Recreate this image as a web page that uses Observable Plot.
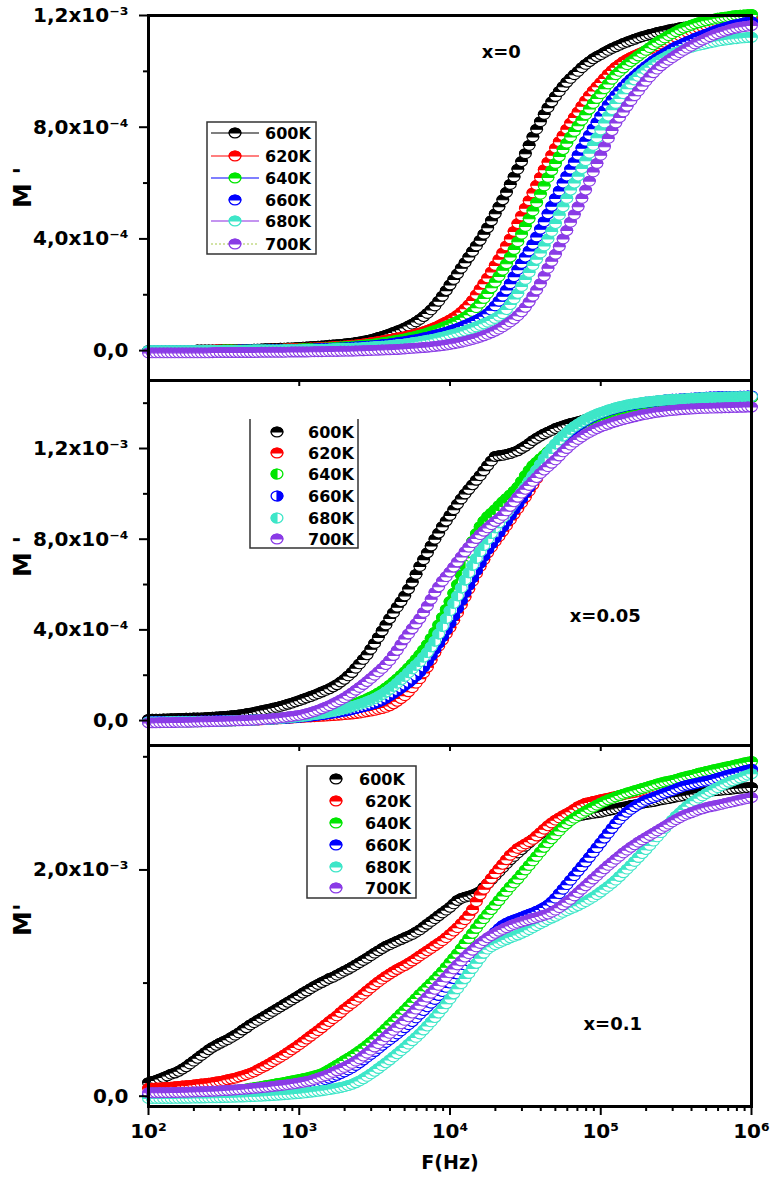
<!DOCTYPE html>
<html><head><meta charset="utf-8">
<script src="https://cdn.jsdelivr.net/npm/d3@7"></script>
<script src="https://cdn.jsdelivr.net/npm/@observablehq/plot@0.6"></script>
<style>
body{margin:0;background:#fff;}
#chart{position:relative;width:774px;height:1184px;font-family:"DejaVu Sans",sans-serif;background:#fff;}
#chart > svg{position:absolute;left:0;}
</style></head><body><div id="chart"></div>
<script>
// frequency grid (log10 of F in Hz)
const logF = [2.000,2.025,2.050,2.075,2.100,2.125,2.150,2.175,2.200,2.225,2.250,2.275,2.300,2.325,2.350,2.375,2.400,2.425,2.450,2.475,
2.500,2.525,2.550,2.575,2.600,2.625,2.650,2.675,2.700,2.725,2.750,2.775,2.800,2.825,2.850,2.875,2.900,2.925,2.950,2.975,
3.000,3.025,3.050,3.075,3.100,3.125,3.150,3.175,3.200,3.225,3.250,3.275,3.300,3.325,3.350,3.375,3.400,3.425,3.450,3.475,
3.500,3.525,3.550,3.575,3.600,3.625,3.650,3.675,3.700,3.725,3.750,3.775,3.800,3.825,3.850,3.875,3.900,3.925,3.950,3.975,
4.000,4.025,4.050,4.075,4.100,4.125,4.150,4.175,4.200,4.225,4.250,4.275,4.300,4.325,4.350,4.375,4.400,4.425,4.450,4.475,
4.500,4.525,4.550,4.575,4.600,4.625,4.650,4.675,4.700,4.725,4.750,4.775,4.800,4.825,4.850,4.875,4.900,4.925,4.950,4.975,
5.000,5.025,5.050,5.075,5.100,5.125,5.150,5.175,5.200,5.225,5.250,5.275,5.300,5.325,5.350,5.375,5.400,5.425,5.450,5.475,
5.500,5.525,5.550,5.575,5.600,5.625,5.650,5.675,5.700,5.725,5.750,5.775,5.800,5.825,5.850,5.875,5.900,5.925,5.950,5.975,
6.000];

const temps = ["600K","620K","640K","660K","680K","700K"];
const colors = ["#000000","#ff0000","#00e600","#0000ff","#3ee6c8","#8a3be6"];

// M' values in units of 1e-4 — panel x=0
const x0_600 = [0.00,0.00,0.00,0.00,0.00,0.00,0.00,0.01,0.01,0.01,0.01,0.01,0.01,0.02,0.02,0.02,0.02,0.02,0.02,0.03,
0.03,0.03,0.03,0.035,0.04,0.04,0.04,0.045,0.05,0.055,0.06,0.065,0.07,0.075,0.08,0.085,0.09,0.095,0.10,0.105,
0.11,0.12,0.13,0.14,0.15,0.16,0.17,0.18,0.19,0.20,0.21,0.225,0.24,0.255,0.27,0.29,0.31,0.335,0.36,0.39,
0.43,0.47,0.51,0.55,0.60,0.65,0.70,0.75,0.81,0.88,0.95,1.03,1.12,1.22,1.33,1.46,1.60,1.77,1.95,2.15,
2.35,2.55,2.75,2.95,3.15,3.35,3.55,3.75,3.95,4.17,4.40,4.65,4.90,5.15,5.40,5.67,5.95,6.22,6.50,6.77,
7.05,7.35,7.65,7.93,8.20,8.46,8.70,8.91,9.10,9.28,9.45,9.61,9.75,9.88,10.00,10.13,10.25,10.35,10.45,10.53,
10.60,10.68,10.75,10.82,10.88,10.94,11.00,11.05,11.10,11.15,11.20,11.24,11.28,11.32,11.35,11.39,11.42,11.45,11.48,11.51,
11.53,11.56,11.58,11.60,11.62,11.64,11.66,11.68,11.70,11.72,11.73,11.75,11.76,11.77,11.78,11.79,11.80,11.81,11.82,11.83,
11.83];
const x0_620 = [0.00,0.00,0.00,0.00,0.00,0.00,0.00,0.00,0.00,0.005,0.01,0.01,0.01,0.01,0.01,0.01,0.01,0.015,0.02,0.02,
0.02,0.02,0.02,0.025,0.03,0.03,0.03,0.035,0.04,0.04,0.04,0.045,0.05,0.05,0.05,0.055,0.06,0.065,0.07,0.075,
0.08,0.085,0.09,0.095,0.10,0.105,0.11,0.12,0.13,0.14,0.15,0.16,0.17,0.18,0.19,0.205,0.22,0.24,0.26,0.28,
0.30,0.325,0.35,0.375,0.40,0.425,0.45,0.475,0.50,0.53,0.56,0.595,0.63,0.675,0.72,0.775,0.83,0.89,0.96,1.03,
1.10,1.18,1.27,1.38,1.50,1.64,1.80,2.00,2.20,2.40,2.60,2.82,3.05,3.27,3.50,3.75,4.00,4.27,4.55,4.82,
5.10,5.37,5.65,5.92,6.20,6.48,6.75,7.00,7.25,7.48,7.70,7.93,8.15,8.35,8.55,8.75,8.95,9.13,9.30,9.45,
9.60,9.75,9.90,10.03,10.15,10.25,10.35,10.43,10.50,10.56,10.62,10.68,10.74,10.80,10.86,10.92,10.98,11.04,11.10,11.16,
11.22,11.28,11.34,11.40,11.45,11.50,11.55,11.60,11.64,11.68,11.72,11.75,11.78,11.81,11.83,11.85,11.87,11.89,11.90,11.91,
11.92];
const x0_640 = [0.00,0.00,0.00,0.00,0.00,0.00,0.00,0.00,0.00,0.00,0.00,0.005,0.01,0.01,0.01,0.01,0.01,0.01,0.01,0.015,
0.02,0.02,0.02,0.02,0.02,0.025,0.03,0.03,0.03,0.03,0.03,0.035,0.04,0.04,0.04,0.045,0.05,0.05,0.05,0.055,
0.06,0.065,0.07,0.075,0.08,0.085,0.09,0.095,0.10,0.11,0.12,0.13,0.14,0.15,0.16,0.17,0.18,0.195,0.21,0.225,
0.24,0.26,0.28,0.30,0.32,0.345,0.37,0.395,0.42,0.45,0.48,0.515,0.55,0.59,0.63,0.675,0.72,0.77,0.82,0.875,
0.93,0.99,1.05,1.12,1.20,1.29,1.40,1.54,1.70,1.87,2.05,2.25,2.45,2.66,2.88,3.11,3.35,3.62,3.90,4.17,
4.45,4.72,5.00,5.30,5.60,5.90,6.20,6.45,6.70,6.95,7.20,7.43,7.65,7.85,8.05,8.25,8.45,8.65,8.85,9.03,
9.20,9.38,9.55,9.72,9.88,10.00,10.12,10.24,10.35,10.45,10.55,10.65,10.75,10.85,10.95,11.04,11.12,11.20,11.28,11.35,
11.42,11.49,11.55,11.60,11.65,11.70,11.74,11.78,11.81,11.84,11.87,11.90,11.92,11.94,11.96,11.98,12.00,12.01,12.02,12.03,
12.04];
const x0_660 = [0.00,0.00,0.00,0.00,0.00,0.00,0.00,0.00,0.00,0.00,0.00,0.00,0.00,0.005,0.01,0.01,0.01,0.01,0.01,0.01,
0.01,0.01,0.01,0.015,0.02,0.02,0.02,0.02,0.02,0.02,0.02,0.025,0.03,0.03,0.03,0.03,0.03,0.035,0.04,0.04,
0.04,0.045,0.05,0.055,0.06,0.065,0.07,0.075,0.08,0.085,0.09,0.095,0.10,0.11,0.12,0.13,0.14,0.15,0.16,0.17,
0.18,0.195,0.21,0.225,0.24,0.26,0.28,0.30,0.32,0.345,0.37,0.395,0.42,0.45,0.48,0.515,0.55,0.585,0.62,0.66,
0.70,0.745,0.79,0.845,0.90,0.96,1.02,1.08,1.15,1.23,1.32,1.45,1.60,1.77,1.95,2.17,2.40,2.65,2.90,3.12,
3.35,3.57,3.80,4.07,4.35,4.62,4.90,5.17,5.45,5.72,6.00,6.25,6.50,6.75,7.00,7.25,7.50,7.72,7.95,8.17,
8.40,8.60,8.80,8.98,9.15,9.30,9.45,9.59,9.72,9.84,9.95,10.07,10.18,10.28,10.38,10.47,10.55,10.64,10.72,10.80,
10.88,10.94,11.00,11.06,11.12,11.18,11.23,11.28,11.33,11.38,11.43,11.48,11.52,11.56,11.60,11.64,11.67,11.70,11.73,11.76,
11.78];
const x0_680 = [0.00,0.00,0.00,0.00,0.00,0.00,0.00,0.00,0.00,0.00,0.00,0.00,0.00,0.00,0.00,0.005,0.01,0.01,0.01,0.01,
0.01,0.01,0.01,0.01,0.01,0.01,0.01,0.015,0.02,0.02,0.02,0.02,0.02,0.02,0.02,0.025,0.03,0.03,0.03,0.03,
0.03,0.035,0.04,0.04,0.04,0.045,0.05,0.055,0.06,0.065,0.07,0.075,0.08,0.085,0.09,0.095,0.10,0.11,0.12,0.13,
0.14,0.15,0.16,0.17,0.18,0.195,0.21,0.225,0.24,0.26,0.28,0.30,0.32,0.345,0.37,0.395,0.42,0.45,0.48,0.515,
0.55,0.585,0.62,0.66,0.70,0.75,0.80,0.85,0.90,0.96,1.02,1.08,1.15,1.23,1.32,1.47,1.65,1.85,2.05,2.30,
2.55,2.80,3.05,3.27,3.50,3.75,4.00,4.27,4.55,4.85,5.15,5.45,5.75,6.00,6.25,6.52,6.80,7.07,7.35,7.62,
7.90,8.15,8.40,8.63,8.85,9.03,9.20,9.38,9.55,9.69,9.82,9.94,10.05,10.15,10.25,10.34,10.42,10.49,10.56,10.62,
10.68,10.73,10.78,10.82,10.86,10.90,10.93,10.96,10.99,11.02,11.05,11.08,11.10,11.12,11.14,11.16,11.17,11.19,11.20,11.21,
11.22];
const x0_700 = [-0.08,-0.08,-0.08,-0.08,-0.08,-0.08,-0.08,-0.08,-0.08,-0.08,-0.08,-0.08,-0.08,-0.08,-0.08,-0.08,-0.08,-0.075,-0.07,-0.07,
-0.07,-0.07,-0.07,-0.07,-0.07,-0.07,-0.07,-0.07,-0.07,-0.065,-0.06,-0.06,-0.06,-0.06,-0.06,-0.06,-0.06,-0.055,-0.05,-0.05,
-0.05,-0.05,-0.05,-0.045,-0.04,-0.04,-0.04,-0.035,-0.03,-0.03,-0.03,-0.025,-0.02,-0.02,-0.02,-0.015,-0.01,-0.005,0.00,0.005,
0.01,0.015,0.02,0.025,0.03,0.035,0.04,0.05,0.06,0.07,0.08,0.09,0.10,0.11,0.12,0.135,0.15,0.165,0.18,0.20,
0.22,0.245,0.27,0.30,0.33,0.365,0.40,0.44,0.48,0.53,0.58,0.64,0.70,0.77,0.85,0.94,1.03,1.13,1.25,1.39,
1.55,1.74,1.95,2.17,2.40,2.67,2.95,3.20,3.45,3.72,4.00,4.30,4.60,4.87,5.15,5.45,5.75,6.07,6.40,6.70,
7.00,7.30,7.60,7.88,8.15,8.35,8.55,8.75,8.95,9.13,9.30,9.48,9.65,9.80,9.95,10.08,10.20,10.30,10.40,10.49,
10.58,10.67,10.75,10.83,10.90,10.98,11.05,11.12,11.18,11.24,11.30,11.35,11.40,11.44,11.48,11.52,11.55,11.58,11.60,11.62,
11.64];

// panel x=0.05
const x05_600 = [0.05,0.055,0.06,0.065,0.07,0.075,0.08,0.085,0.09,0.095,0.10,0.105,0.11,0.115,0.12,0.13,0.14,0.15,0.16,0.17,
0.18,0.195,0.21,0.23,0.25,0.275,0.30,0.33,0.36,0.395,0.43,0.465,0.50,0.54,0.58,0.625,0.67,0.72,0.77,0.825,
0.88,0.94,1.00,1.06,1.12,1.19,1.26,1.33,1.40,1.49,1.58,1.70,1.82,1.97,2.12,2.31,2.50,2.70,2.90,3.15,
3.40,3.67,3.95,4.22,4.50,4.75,5.00,5.25,5.50,5.80,6.10,6.45,6.80,7.10,7.40,7.70,8.00,8.27,8.55,8.80,
9.05,9.30,9.55,9.78,10.00,10.20,10.40,10.60,10.80,11.02,11.25,11.45,11.65,11.68,11.70,11.74,11.78,11.84,11.90,12.00,
12.10,12.22,12.35,12.45,12.55,12.64,12.72,12.80,12.88,12.94,13.00,13.05,13.10,13.14,13.18,13.23,13.28,13.33,13.38,13.43,
13.48,13.53,13.58,13.63,13.68,13.72,13.76,13.80,13.84,13.87,13.90,13.93,13.96,13.98,14.00,14.02,14.04,14.06,14.07,14.09,
14.10,14.11,14.12,14.13,14.14,14.15,14.16,14.17,14.18,14.19,14.19,14.20,14.20,14.21,14.21,14.22,14.22,14.23,14.23,14.24,
14.24];
const x05_620 = [-0.05,-0.05,-0.05,-0.05,-0.05,-0.05,-0.05,-0.045,-0.04,-0.04,-0.04,-0.04,-0.04,-0.035,-0.03,-0.03,-0.03,-0.025,-0.02,-0.02,
-0.02,-0.015,-0.01,-0.005,0.00,0.005,0.01,0.015,0.02,0.025,0.03,0.04,0.05,0.06,0.07,0.08,0.09,0.10,0.11,0.12,
0.13,0.14,0.15,0.16,0.17,0.18,0.19,0.20,0.21,0.22,0.23,0.245,0.26,0.275,0.29,0.31,0.33,0.36,0.39,0.42,
0.45,0.49,0.53,0.58,0.65,0.74,0.85,0.97,1.10,1.27,1.45,1.65,1.85,2.10,2.35,2.67,3.00,3.28,3.55,3.82,
4.10,4.42,4.75,5.10,5.45,5.80,6.15,6.48,6.80,7.10,7.40,7.65,7.90,8.12,8.35,8.60,8.85,9.10,9.35,9.60,
9.85,10.12,10.40,10.67,10.95,11.22,11.50,11.75,12.00,12.20,12.40,12.58,12.75,12.88,13.00,13.10,13.20,13.29,13.38,13.45,
13.52,13.58,13.64,13.69,13.74,13.78,13.82,13.86,13.89,13.92,13.95,13.98,14.00,14.02,14.04,14.06,14.08,14.10,14.11,14.13,
14.14,14.15,14.16,14.17,14.18,14.19,14.20,14.21,14.22,14.22,14.23,14.23,14.24,14.24,14.25,14.25,14.26,14.26,14.27,14.27,
14.28];
const x05_640 = [-0.07,-0.07,-0.07,-0.07,-0.07,-0.065,-0.06,-0.06,-0.06,-0.06,-0.06,-0.055,-0.05,-0.05,-0.05,-0.045,-0.04,-0.035,-0.03,-0.025,
-0.02,-0.015,-0.01,-0.005,0.00,0.005,0.01,0.02,0.03,0.04,0.05,0.06,0.07,0.085,0.10,0.115,0.13,0.145,0.16,0.18,
0.20,0.225,0.25,0.275,0.30,0.33,0.36,0.395,0.43,0.47,0.51,0.555,0.60,0.65,0.70,0.76,0.82,0.89,0.96,1.04,
1.12,1.22,1.32,1.44,1.56,1.70,1.84,1.99,2.15,2.32,2.50,2.70,2.90,3.12,3.35,3.62,3.90,4.22,4.55,4.90,
5.25,5.62,6.00,6.42,6.85,7.40,7.90,8.25,8.55,8.80,9.00,9.15,9.30,9.48,9.65,9.80,9.95,10.12,10.30,10.55,
10.80,11.03,11.25,11.40,11.55,11.70,11.85,12.00,12.15,12.33,12.50,12.64,12.78,12.90,13.00,13.08,13.15,13.22,13.28,13.34,
13.40,13.46,13.52,13.57,13.62,13.67,13.72,13.76,13.80,13.84,13.87,13.90,13.93,13.96,13.98,14.01,14.03,14.05,14.07,14.09,
14.10,14.12,14.13,14.14,14.15,14.16,14.17,14.18,14.19,14.20,14.20,14.21,14.21,14.22,14.22,14.23,14.23,14.24,14.24,14.25,
14.25];
const x05_660 = [-0.04,-0.04,-0.04,-0.04,-0.04,-0.04,-0.04,-0.035,-0.03,-0.03,-0.03,-0.03,-0.03,-0.025,-0.02,-0.02,-0.02,-0.015,-0.01,-0.01,
-0.01,-0.005,0.00,0.005,0.01,0.015,0.02,0.025,0.03,0.035,0.04,0.05,0.06,0.07,0.08,0.09,0.10,0.11,0.12,0.135,
0.15,0.165,0.18,0.20,0.22,0.24,0.26,0.285,0.31,0.335,0.36,0.39,0.42,0.455,0.49,0.53,0.57,0.615,0.66,0.71,
0.76,0.82,0.90,0.99,1.10,1.21,1.32,1.44,1.56,1.68,1.82,1.97,2.15,2.36,2.60,2.87,3.15,3.42,3.70,4.00,
4.30,4.62,4.95,5.30,5.65,5.97,6.30,6.62,6.95,7.25,7.55,7.80,8.05,8.30,8.55,8.80,9.05,9.30,9.55,9.80,
10.05,10.30,10.55,10.80,11.05,11.30,11.55,11.78,12.00,12.20,12.40,12.58,12.75,12.89,13.02,13.13,13.24,13.33,13.42,13.49,
13.56,13.62,13.68,13.73,13.78,13.82,13.86,13.90,13.93,13.96,13.99,14.02,14.04,14.06,14.08,14.10,14.12,14.14,14.15,14.17,
14.18,14.19,14.20,14.21,14.22,14.23,14.24,14.25,14.26,14.27,14.27,14.28,14.28,14.29,14.29,14.30,14.30,14.31,14.31,14.32,
14.32];
const x05_680 = [-0.06,-0.06,-0.06,-0.06,-0.06,-0.055,-0.05,-0.05,-0.05,-0.05,-0.05,-0.045,-0.04,-0.04,-0.04,-0.035,-0.03,-0.03,-0.03,-0.025,
-0.02,-0.015,-0.01,-0.005,0.00,0.005,0.01,0.015,0.02,0.03,0.04,0.05,0.06,0.07,0.08,0.095,0.11,0.125,0.14,0.155,
0.17,0.19,0.21,0.235,0.26,0.285,0.31,0.34,0.37,0.405,0.44,0.48,0.52,0.565,0.61,0.66,0.71,0.77,0.83,0.90,
0.97,1.06,1.15,1.26,1.38,1.51,1.65,1.80,1.95,2.11,2.28,2.44,2.60,2.80,3.00,3.25,3.50,3.82,4.15,4.50,
4.85,5.17,5.50,5.85,6.20,6.52,6.85,7.15,7.45,7.72,8.00,8.25,8.50,8.72,8.95,9.17,9.40,9.62,9.85,10.07,
10.30,10.55,10.80,11.05,11.30,11.55,11.80,12.00,12.20,12.38,12.55,12.70,12.85,12.97,13.08,13.18,13.28,13.37,13.45,13.52,
13.58,13.64,13.70,13.75,13.80,13.84,13.88,13.92,13.95,13.98,14.00,14.03,14.05,14.07,14.09,14.11,14.12,14.14,14.15,14.16,
14.17,14.18,14.19,14.20,14.21,14.22,14.23,14.24,14.24,14.25,14.25,14.26,14.26,14.27,14.27,14.28,14.28,14.29,14.29,14.30,
14.30];
const x05_700 = [-0.10,-0.10,-0.10,-0.095,-0.09,-0.09,-0.09,-0.085,-0.08,-0.08,-0.08,-0.075,-0.07,-0.065,-0.06,-0.055,-0.05,-0.045,-0.04,-0.035,
-0.03,-0.025,-0.02,-0.015,-0.01,-0.005,0.00,0.01,0.02,0.03,0.04,0.055,0.07,0.085,0.10,0.12,0.14,0.16,0.18,0.205,
0.23,0.26,0.30,0.35,0.40,0.46,0.52,0.59,0.66,0.74,0.82,0.91,1.00,1.11,1.22,1.34,1.46,1.59,1.72,1.86,
2.00,2.15,2.30,2.47,2.65,2.87,3.10,3.35,3.60,3.82,4.05,4.27,4.50,4.77,5.05,5.35,5.65,5.90,6.15,6.35,
6.55,6.77,7.00,7.22,7.45,7.65,7.85,8.03,8.20,8.35,8.50,8.64,8.78,8.91,9.05,9.25,9.45,9.65,9.85,10.03,
10.20,10.37,10.55,10.72,10.90,11.05,11.20,11.35,11.50,11.67,11.85,12.00,12.15,12.28,12.40,12.51,12.62,12.71,12.80,12.88,
12.95,13.01,13.07,13.13,13.18,13.23,13.28,13.32,13.36,13.40,13.44,13.48,13.51,13.54,13.57,13.60,13.62,13.64,13.66,13.68,
13.69,13.71,13.72,13.73,13.74,13.75,13.76,13.77,13.77,13.78,13.78,13.79,13.79,13.80,13.80,13.81,13.81,13.82,13.82,13.83,
13.83];

// panel x=0.1
const x1_600 = [1.20,1.30,1.40,1.52,1.65,1.80,1.95,2.05,2.20,2.40,2.60,2.85,3.10,3.35,3.60,3.85,4.10,4.32,4.50,4.68,
4.85,5.00,5.20,5.40,5.60,5.85,6.05,6.30,6.50,6.70,6.90,7.10,7.30,7.50,7.70,7.90,8.10,8.30,8.50,8.70,
8.90,9.12,9.30,9.50,9.70,9.88,10.05,10.22,10.40,10.52,10.70,10.88,11.05,11.22,11.40,11.60,11.80,12.00,12.20,12.42,
12.65,12.85,13.05,13.25,13.40,13.55,13.70,13.85,14.00,14.15,14.30,14.50,14.70,14.95,15.20,15.45,15.70,15.95,16.20,16.45,
16.70,17.00,17.30,17.48,17.60,17.68,17.80,17.92,18.10,18.45,18.80,19.15,19.50,19.85,20.20,20.55,20.90,21.20,21.50,21.80,
22.10,22.40,22.70,22.95,23.20,23.40,23.60,23.80,24.00,24.15,24.30,24.43,24.55,24.65,24.75,24.83,24.90,24.95,25.00,25.05,
25.10,25.18,25.25,25.32,25.40,25.48,25.55,25.62,25.70,25.75,25.80,25.88,25.95,26.00,26.05,26.12,26.20,26.25,26.30,26.38,
26.45,26.50,26.55,26.60,26.65,26.72,26.80,26.85,26.90,26.95,27.00,27.02,27.05,27.08,27.10,27.15,27.20,27.22,27.25,27.28,
27.30];
const x1_620 = [0.70,0.71,0.72,0.73,0.75,0.77,0.80,0.83,0.86,0.90,0.93,0.96,1.00,1.04,1.08,1.11,1.15,1.20,1.25,1.31,
1.38,1.45,1.52,1.60,1.70,1.80,1.90,2.02,2.15,2.32,2.50,2.67,2.85,3.05,3.25,3.45,3.65,3.87,4.10,4.32,
4.55,4.80,5.05,5.30,5.55,5.80,6.05,6.32,6.60,6.85,7.10,7.40,7.70,7.95,8.20,8.47,8.75,9.02,9.30,9.57,
9.85,10.10,10.35,10.58,10.80,11.00,11.20,11.38,11.55,11.75,11.95,12.17,12.40,12.62,12.85,13.07,13.30,13.52,13.75,14.02,
14.30,14.60,14.90,15.25,15.60,16.00,16.50,17.20,17.80,18.30,18.80,19.25,19.70,20.10,20.50,20.90,21.30,21.60,21.90,22.10,
22.30,22.50,22.70,23.00,23.30,23.60,23.90,24.15,24.40,24.60,24.80,24.97,25.15,25.38,25.60,25.75,25.90,25.97,26.05,26.12,
26.20,26.28,26.35,26.42,26.50,26.58,26.65,26.72,26.80,26.85,26.90,26.98,27.05,27.10,27.15,27.22,27.30,27.35,27.40,27.48,
27.55,27.62,27.70,27.78,27.85,27.92,28.00,28.05,28.10,28.18,28.25,28.30,28.35,28.40,28.45,28.50,28.55,28.60,28.65,28.68,
28.70];
const x1_640 = [0.05,0.06,0.07,0.08,0.09,0.105,0.12,0.135,0.15,0.165,0.18,0.20,0.22,0.24,0.26,0.28,0.30,0.325,0.35,0.38,
0.41,0.445,0.48,0.52,0.56,0.605,0.65,0.70,0.75,0.80,0.86,0.92,0.98,1.04,1.10,1.16,1.22,1.28,1.35,1.41,
1.48,1.55,1.62,1.70,1.78,1.88,2.00,2.16,2.35,2.55,2.75,2.95,3.15,3.35,3.55,3.77,4.00,4.25,4.50,4.77,
5.05,5.35,5.65,5.97,6.30,6.62,6.95,7.27,7.60,7.95,8.30,8.65,9.00,9.32,9.65,9.97,10.30,10.65,11.00,11.40,
11.80,12.20,12.60,13.05,13.50,13.95,14.40,14.85,15.30,15.70,16.10,16.50,16.90,17.30,17.70,18.10,18.50,18.85,19.20,19.60,
20.00,20.40,20.80,21.20,21.60,22.00,22.40,22.75,23.10,23.45,23.80,24.08,24.35,24.58,24.80,25.00,25.20,25.38,25.55,25.72,
25.90,26.05,26.20,26.32,26.45,26.58,26.70,26.80,26.90,27.00,27.10,27.20,27.30,27.40,27.50,27.60,27.70,27.78,27.85,27.92,
28.00,28.10,28.20,28.28,28.35,28.45,28.55,28.62,28.70,28.78,28.85,28.92,29.00,29.08,29.15,29.22,29.30,29.38,29.45,29.52,
29.60];
const x1_660 = [0.05,0.055,0.06,0.065,0.07,0.075,0.08,0.085,0.09,0.10,0.11,0.12,0.13,0.14,0.15,0.165,0.18,0.195,0.21,0.23,
0.25,0.27,0.29,0.315,0.34,0.365,0.39,0.42,0.45,0.48,0.51,0.545,0.58,0.615,0.65,0.69,0.73,0.775,0.82,0.87,
0.92,0.97,1.03,1.10,1.17,1.26,1.35,1.46,1.58,1.71,1.85,2.00,2.15,2.32,2.50,2.72,2.95,3.20,3.45,3.70,
3.95,4.22,4.50,4.75,5.00,5.25,5.50,5.77,6.05,6.32,6.60,6.92,7.25,7.57,7.90,8.22,8.55,8.90,9.25,9.62,
10.00,10.40,10.80,11.20,11.60,11.95,12.30,12.65,13.00,13.35,13.70,14.10,14.50,14.82,15.10,15.30,15.45,15.58,15.70,15.82,
15.95,16.08,16.20,16.35,16.50,16.68,16.90,17.18,17.50,17.90,18.30,18.70,19.10,19.50,19.90,20.30,20.70,21.12,21.55,21.97,
22.40,22.82,23.25,23.68,24.10,24.47,24.80,25.10,25.35,25.58,25.80,25.98,26.15,26.28,26.40,26.52,26.65,26.78,26.90,27.02,
27.15,27.28,27.40,27.48,27.55,27.62,27.70,27.78,27.85,27.92,28.00,28.10,28.20,28.30,28.40,28.48,28.55,28.65,28.75,28.82,
28.90];
const x1_680 = [-0.20,-0.20,-0.20,-0.20,-0.20,-0.20,-0.20,-0.195,-0.19,-0.185,-0.18,-0.175,-0.17,-0.165,-0.16,-0.155,-0.15,-0.145,-0.14,-0.13,
-0.12,-0.11,-0.10,-0.09,-0.08,-0.07,-0.06,-0.045,-0.03,-0.015,0.00,0.02,0.04,0.06,0.08,0.105,0.13,0.155,0.18,0.21,
0.24,0.275,0.31,0.35,0.39,0.435,0.48,0.53,0.58,0.64,0.70,0.77,0.85,0.94,1.05,1.19,1.35,1.54,1.75,1.97,
2.20,2.45,2.70,2.95,3.20,3.47,3.75,4.02,4.30,4.60,4.90,5.20,5.50,5.85,6.20,6.57,6.95,7.35,7.75,8.17,
8.60,9.05,9.50,9.95,10.40,10.85,11.30,11.75,12.20,12.65,13.00,13.22,13.40,13.55,13.70,13.85,14.00,14.12,14.25,14.40,
14.55,14.72,14.90,15.07,15.25,15.42,15.60,15.75,15.90,16.07,16.25,16.40,16.55,16.70,16.85,17.02,17.20,17.40,17.60,17.82,
18.05,18.30,18.55,18.82,19.10,19.42,19.75,20.07,20.40,20.75,21.10,21.45,21.80,22.17,22.55,22.92,23.30,23.67,24.05,24.40,
24.75,25.05,25.35,25.63,25.90,26.13,26.35,26.55,26.75,26.93,27.10,27.28,27.45,27.60,27.75,27.88,28.00,28.12,28.25,28.38,
28.50];
const x1_700 = [0.30,0.30,0.30,0.305,0.31,0.315,0.32,0.325,0.33,0.34,0.35,0.36,0.37,0.38,0.39,0.405,0.42,0.435,0.45,0.47,
0.49,0.51,0.53,0.555,0.58,0.605,0.63,0.66,0.69,0.72,0.75,0.785,0.82,0.86,0.90,0.94,0.98,1.02,1.07,1.12,
1.17,1.23,1.30,1.38,1.48,1.59,1.70,1.82,1.95,2.10,2.25,2.40,2.55,2.72,2.90,3.10,3.30,3.55,3.80,4.07,
4.35,4.65,4.95,5.25,5.55,5.82,6.10,6.40,6.70,7.02,7.35,7.70,8.05,8.40,8.75,9.10,9.45,9.80,10.15,10.52,
10.90,11.25,11.60,11.95,12.30,12.60,12.90,13.20,13.50,13.75,14.00,14.20,14.40,14.58,14.75,14.90,15.05,15.18,15.30,15.40,
15.50,15.60,15.70,15.80,15.90,16.00,16.10,16.27,16.45,16.67,16.90,17.15,17.40,17.70,18.00,18.30,18.60,18.90,19.20,19.50,
19.80,20.10,20.40,20.67,20.95,21.22,21.50,21.75,22.00,22.22,22.45,22.65,22.85,23.05,23.25,23.45,23.65,23.85,24.05,24.25,
24.45,24.62,24.80,24.93,25.05,25.18,25.30,25.40,25.50,25.58,25.65,25.72,25.80,25.88,25.95,26.02,26.10,26.18,26.25,26.32,
26.40];

// ticks & labels
const xTicks = [1e2, 1e3, 1e4, 1e5, 1e6];
const xTickLabels = ["10²", "10³", "10⁴", "10⁵", "10⁶"];
const xMinorMult = [2, 3, 4, 5, 6, 7, 8, 9];
const yTicksA = [0, 4, 8, 12];
const yTickLabelsA = ["0,0", "4,0x10⁻⁴", "8,0x10⁻⁴", "1,2x10⁻³"];
const yMinor1 = [2, 6, 10];
const yMinor2 = [2, 6, 10, 14];
const yTicks3 = [0, 20];
const yTickLabels3 = ["0,0", "2,0x10⁻³"];
const yMinor3 = [10, 30];
const annText = ["x=0", "x=0.05", "x=0.1"];
const annLogF = [4.34, 5.03, 5.08];
const annV = [10.7, 4.6, 6.4];

// ---------- marker shapes (half-filled ellipses) ----------
const KAPPA = 0.5523;
function shape(part, rx = 5.9, ry = 4.9) {
  return {draw(c) {
    const kx = KAPPA * rx, ky = KAPPA * ry;
    if (part === "full") {
      c.moveTo(rx, 0);
      c.bezierCurveTo(rx, ky, kx, ry, 0, ry);
      c.bezierCurveTo(-kx, ry, -rx, ky, -rx, 0);
      c.bezierCurveTo(-rx, -ky, -kx, -ry, 0, -ry);
      c.bezierCurveTo(kx, -ry, rx, -ky, rx, 0);
    } else if (part === "top") {
      c.moveTo(-rx, 0);
      c.bezierCurveTo(-rx, -ky, -kx, -ry, 0, -ry);
      c.bezierCurveTo(kx, -ry, rx, -ky, rx, 0);
    } else if (part === "left") {
      c.moveTo(0, -ry);
      c.bezierCurveTo(-kx, -ry, -rx, -ky, -rx, 0);
      c.bezierCurveTo(-rx, ky, -kx, ry, 0, ry);
    } else {
      c.moveTo(0, -ry);
      c.bezierCurveTo(kx, -ry, rx, -ky, rx, 0);
      c.bezierCurveTo(rx, ky, kx, ry, 0, ry);
    }
    c.closePath();
  }};
}
const SYM = {full: shape("full"), top: shape("top"), left: shape("left"), right: shape("right")};

function yLabelMap(ticks, labels) { return new Map(ticks.map((t, i) => [t, labels[i]])); }

function makePanel(o) {
  const W = 774, ML = 148, MR = 23;
  const frameH = o.height - o.marginTop - o.marginBottom;
  const unitPerPx = (o.yDomain[1] - o.yDomain[0]) / frameH;
  const marks = [];
  o.series.forEach((vals, si) => {
    const pts = vals.map((v, i) => ({f: 10 ** logF[i], v}));
    if (o.lines && o.lines[si]) {
      marks.push(Plot.line(pts, {x: "f", y: "v", stroke: o.lines[si].color, strokeWidth: 1, strokeDasharray: o.lines[si].dash}));
    }
    const rows = [];
    pts.forEach(p => {
      rows.push({f: p.f, v: p.v, sym: SYM.full, fill: "#ffffff", stroke: colors[si]});
      rows.push({f: p.f, v: p.v, sym: SYM[o.parts[si]], fill: colors[si], stroke: colors[si]});
    });
    marks.push(Plot.dot(rows, {x: "f", y: "v", symbol: "sym", fill: "fill", stroke: "stroke", strokeWidth: 1.1}));
  });
  const lm = yLabelMap(o.yTicks, o.yLabels);
  marks.push(Plot.frame({strokeWidth: 3, stroke: "#000"}));
  marks.push(Plot.axisY(o.yTicks, {tickSize: 9, tickPadding: 11, strokeWidth: 2, tickFormat: d => lm.get(d), fontSize: 20, fontWeight: "bold", label: null}));
  marks.push(Plot.axisY(o.yMinor, {tickSize: 5, strokeWidth: 2, tickFormat: () => "", label: null}));
  if (o.topTicks) {
    marks.push(Plot.ruleX(xTicks.slice(1, -1), {y1: o.yDomain[1], y2: o.yDomain[1] - 6 * unitPerPx, strokeWidth: 2}));
  }
  if (o.showX) {
    const xm = new Map(xTicks.map((t, i) => [t, xTickLabels[i]]));
    const minors = xTicks.slice(0, -1).flatMap(t => xMinorMult.map(m => t * m));
    marks.push(Plot.axisX(xTicks, {tickSize: 9, tickPadding: 8, strokeWidth: 2, tickFormat: d => xm.get(d), fontSize: 20, fontWeight: "bold", label: null}));
    marks.push(Plot.axisX(minors, {tickSize: 5, strokeWidth: 2, tickFormat: () => "", label: null}));
    marks.push(Plot.text(["F(Hz)"], {frameAnchor: "bottom", dy: 62, text: d => d, fontSize: 19, fontWeight: "bold"}));
  }
  marks.push(Plot.text([o.yLabelText], {frameAnchor: "left", dx: -126, dy: o.yLabelDy, rotate: -90, text: d => d, fontSize: 25, fontWeight: "bold"}));
  marks.push(Plot.text([0], {x: () => 10 ** annLogF[o.ann], y: () => annV[o.ann], text: () => annText[o.ann], fontSize: 18, fontWeight: "bold"}));
  const svg = Plot.plot({
    width: W, height: o.height,
    marginLeft: ML, marginRight: MR, marginTop: o.marginTop, marginBottom: o.marginBottom,
    style: {background: "transparent", overflow: "visible", fontFamily: "DejaVu Sans", fontWeight: "bold", fontSize: "20px"},
    x: {type: "log", domain: [1e2, 1e6], axis: o.showX ? undefined : null},
    y: {domain: o.yDomain},
    symbol: {type: "identity"},
    color: {type: "identity"},
    marks
  });
  svg.style.top = o.top + "px";
  return svg;
}

const chart = document.getElementById("chart");
chart.appendChild(makePanel({
  top: 0, height: 380, marginTop: 15, marginBottom: 0, yDomain: [-1.07, 12.0],
  series: [x0_600, x0_620, x0_640, x0_660, x0_680, x0_700],
  parts: ["top", "top", "top", "top", "top", "top"],
  lines: [{color: "#000000"}, {color: "#ff0000"}, {color: "#0000ff"}, null, {color: "#8a2be2"}, {color: "#a6c84a", dash: "2,2"}],
  yTicks: yTicksA, yLabels: yTickLabelsA, yMinor: yMinor1, yLabelText: "M '", yLabelDy: 10, ann: 0
}));
chart.appendChild(makePanel({
  top: 380, height: 365, marginTop: 0, marginBottom: 0, yDomain: [-1.1, 15.0],
  series: [x05_600, x05_620, x05_640, x05_660, x05_680, x05_700],
  parts: ["top", "top", "left", "right", "left", "top"],
  yTicks: yTicksA, yLabels: yTickLabelsA, yMinor: yMinor2, yLabelText: "M '", yLabelDy: 14, ann: 1, topTicks: true
}));
chart.appendChild(makePanel({
  top: 745, height: 439, marginTop: 0, marginBottom: 78, yDomain: [-0.91, 31.0],
  series: [x1_600, x1_620, x1_640, x1_660, x1_680, x1_700],
  parts: ["top", "top", "top", "top", "top", "top"],
  yTicks: yTicks3, yLabels: yTickLabels3, yMinor: yMinor3, yLabelText: "M'", yLabelDy: 10, ann: 2, topTicks: true, showX: true
}));

// ---------- legends (overlay) ----------
const ov = d3.select(chart).append("svg").attr("width", 774).attr("height", 1184)
  .style("top", "0px").style("pointer-events", "none").style("overflow", "visible");
function symPath(s) { const p = d3.path(); s.draw(p); return p.toString(); }
function legend(cfg) {
  const g = ov.append("g");
  const [x0, y0, x1, y1] = cfg.box;
  const pathD = cfg.noTop ? `M${x0},${y0}V${y1}H${x1}V${y0}` : `M${x0},${y0}H${x1}V${y1}H${x0}Z`;
  g.append("path").attr("d", pathD).attr("fill", "none").attr("stroke", "#333").attr("stroke-width", 1.5);
  temps.forEach((t, i) => {
    const y = cfg.rows[i];
    if (cfg.lines && cfg.lines[i]) {
      g.append("line").attr("x1", cfg.lineX[0]).attr("x2", cfg.lineX[1]).attr("y1", y).attr("y2", y)
        .attr("stroke", cfg.lines[i].color).attr("stroke-width", 1.2).attr("stroke-dasharray", cfg.lines[i].dash || null);
    }
    const mg = g.append("g").attr("transform", `translate(${cfg.markerX},${y})`);
    mg.append("path").attr("d", symPath(SYM.full)).attr("fill", "#fff").attr("stroke", colors[i]).attr("stroke-width", 1.3);
    mg.append("path").attr("d", symPath(SYM[cfg.parts[i]])).attr("fill", colors[i]).attr("stroke", colors[i]).attr("stroke-width", 1.1);
    g.append("text").attr("x", Array.isArray(cfg.textX) ? cfg.textX[i] : cfg.textX).attr("y", y).attr("dy", "0.36em")
      .attr("font-family", "DejaVu Sans").attr("font-weight", "bold").attr("font-size", 16).text(t);
  });
}
legend({box: [207, 122, 316, 254], rows: [133, 156, 178, 200, 221, 244], markerX: 235, textX: 265, lineX: [211, 259],
  lines: [{color: "#000000"}, {color: "#ff0000"}, {color: "#0000ff"}, null, {color: "#8a2be2"}, {color: "#a6c84a", dash: "2,2"}],
  parts: ["top", "top", "top", "top", "top", "top"]});
legend({box: [250, 419, 358, 548], noTop: true, rows: [432, 453, 474, 496, 518, 539], markerX: 277, textX: 308,
  parts: ["top", "top", "left", "right", "left", "top"]});
legend({box: [307, 766, 416, 898], rows: [779, 801, 823, 845, 867, 888], markerX: 336, textX: [359, 365, 365, 365, 365, 365],
  parts: ["top", "top", "top", "top", "top", "top"]});
</script>
</body></html>
